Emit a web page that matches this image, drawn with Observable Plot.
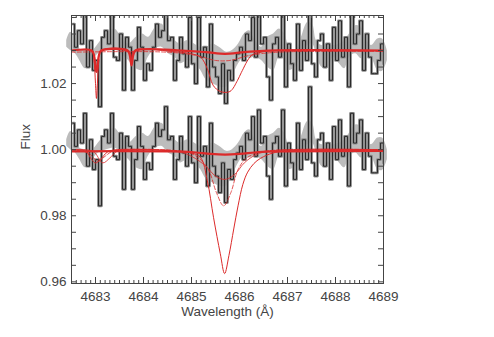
<!DOCTYPE html>
<html><head><meta charset="utf-8">
<script src="https://cdn.jsdelivr.net/npm/d3@7"></script>
<script src="https://cdn.jsdelivr.net/npm/@observablehq/plot@0.6"></script>
<style>body{margin:0;background:#fff}</style>
</head><body><div id="chart"></div>
<script>
// Spectrum offsets (continuum levels of the two stacked spectra)
const offsets = [1.03, 1.00];
// Wavelength grid of the observed spectrum (start, pixel width in Å)
const lambda0 = 4682.5, dLambda = 0.0625;
// Observed flux residuals (×1e-3) relative to continuum, one per pixel
const residual = [8,1,6,2,11,-5,3,-6,-3,-17,4,6,2,11,-2,-3,5,-12,4,1,-12,-3,7,1,-9,-4,-6,1,8,4,6,13,3,4,-9,-3,4,-1,-5,10,-4,-10,10,-2,1,-11,8,-5,-8,-13,-4,-16,-6,-9,-3,-1,1,-3,5,3,10,-2,12,2,4,-8,-15,2,4,-2,12,-11,2,-4,-9,8,-6,3,-3,19,-4,-8,3,5,-5,2,-9,7,-3,9,-2,4,-11,11,2,5,9,-6,5,-2,-7,-7,-3,2,-4];
// Smoothed band: [wavelength, lower, upper] (×1e-3 relative to continuum)
const band = [[4682.40,1,3],[4682.48,0,5.5],[4682.58,-1,4],[4682.67,-3,0.5],[4682.79,-5.5,0],[4682.94,-3,0],[4683.06,-1,2],[4683.23,0,5],[4683.40,0.5,6.5],[4683.54,-1,4],[4683.69,-3,2],[4683.85,-5.5,4],[4683.98,-6,5],[4684.10,-2,4],[4684.25,0.5,7],[4684.38,1,8],[4684.52,-1,5],[4684.65,-2,3],[4684.77,-4,2],[4684.92,-3,3],[4685.06,-4,2],[4685.19,-6,1],[4685.31,-9,1],[4685.44,-10,2],[4685.58,-11,1],[4685.73,-11,-0.5],[4685.85,-8,0],[4685.98,-4,2],[4686.10,-2,5],[4686.21,-2.5,6],[4686.33,-2,3],[4686.46,-3,1],[4686.58,-5,4],[4686.71,-6,5],[4686.83,-2,6.5],[4686.94,-3,5],[4687.04,-6,1],[4687.17,-5,0],[4687.29,-1,4],[4687.42,1.5,8.5],[4687.52,2,8],[4687.60,-1,3],[4687.71,-5,1.5],[4687.83,-5.5,2],[4687.96,-2,1.5],[4688.08,-4,2],[4688.19,-5.5,3],[4688.29,-2,5],[4688.42,-1,7.5],[4688.54,-2.5,7],[4688.65,-1,3],[4688.75,-2,1.5],[4688.88,-6,3.5],[4688.98,-6.3,3.5],[4689.08,-3,0]];
// Model profiles: [wavelength, depth ×1e-3]
const topThick = [[4682.5,0],[4682.92,0],[4682.97,-1.5],[4683.0,-5],[4683.02,-6.5],[4683.04,-5],[4683.07,-1.5],[4683.12,0],[4683.66,0],[4683.71,-1.2],[4683.75,-4.5],[4683.79,-1.2],[4683.84,0],[4684.8,0],[4685.3,-0.5],[4685.7,-1],[4686.1,-0.5],[4686.6,0],[4689,0]];
const topThin = [[4682.5,0],[4682.93,0],[4682.97,-3],[4683.0,-10],[4683.02,-14.5],[4683.04,-10],[4683.07,-3],[4683.11,0],[4683.7,0],[4683.75,-3],[4683.8,0],[4684.6,-0.3],[4685.0,-1],[4685.19,-2],[4685.33,-5.5],[4685.45,-10.5],[4685.6,-12.4],[4685.8,-12.4],[4685.96,-9],[4686.04,-6.6],[4686.25,-1.5],[4686.45,-0.5],[4686.8,0],[4689,0]];
const topDashed = [[4682.5,-0.5],[4684.5,-0.5],[4685.1,-1.5],[4685.5,-3],[4685.8,-3],[4686.2,-1.5],[4686.8,-0.5],[4689,-0.3]];
const botThick = [[4682.5,-0.5],[4684.5,-0.5],[4685.0,-0.7],[4685.4,-1.3],[4685.7,-1.5],[4686.0,-1.3],[4686.4,-0.7],[4686.9,-0.5],[4689,-0.4]];
const botDeep = [[4682.5,0],[4682.8,-0.5],[4682.92,-3],[4683.0,-4],[4683.1,-3],[4683.25,-0.7],[4683.45,0],[4684.5,-0.3],[4685.0,-1],[4685.19,-2.4],[4685.33,-9.4],[4685.46,-20.6],[4685.6,-31.5],[4685.69,-37.5],[4685.78,-32],[4685.88,-24],[4685.97,-17],[4686.07,-10.5],[4686.17,-6.8],[4686.3,-4.2],[4686.44,-2.6],[4686.7,-1],[4687.1,-0.3],[4689,0]];
const botDashed = [[4682.5,0],[4682.85,-1],[4683.05,-3.5],[4683.2,-2],[4683.35,-0.5],[4683.6,0],[4684.8,-0.5],[4685.1,-2],[4685.35,-6],[4685.52,-13],[4685.67,-17],[4685.82,-13],[4685.97,-6],[4686.15,-2.5],[4686.45,-0.7],[4687,0],[4689,0]];
const botThin = [[4682.5,0],[4682.95,-0.5],[4683.15,-4],[4683.3,-2.5],[4683.45,-0.5],[4683.7,0],[4684.7,-0.5],[4685.0,-2],[4685.3,-5],[4685.5,-8],[4685.7,-9],[4685.9,-7.5],[4686.1,-4],[4686.35,-1.5],[4686.7,-0.3],[4689,0]];
// Axis ticks
const xMajor = [4683,4684,4685,4686,4687,4688,4689];
const yLabels = [0.96,0.98,1.00,1.02];

const W = 494, H = 337, mL = 71, mR = 111, mT = 15, mB = 54;
const frameW = W - mL - mR, frameH = H - mT - mB;
const xMinor = d3.range(46826, 46890).map(d => d / 10).filter(d => Math.abs(d - Math.round(d)) > 1e-6);
const yTicks = d3.range(960, 1041, 5).map(d => d / 1000);

const stepData = offsets.flatMap(o => residual.map((r, i) => ({x: lambda0 + dLambda * (i + 0.5), y: o + r / 1000, s: o})));
const bandData = offsets.flatMap(o => band.map(([x, lo, hi]) => ({x, y1: o + lo / 1000, y2: o + hi / 1000, s: o})));
const model = (arr, o) => arr.map(([x, v]) => ({x, y: o + v / 1000}));

const red = "#dc2a2a";
const ink = "#444";
const chart = Plot.plot({
  width: W, height: H, marginLeft: mL, marginRight: mR, marginTop: mT, marginBottom: mB,
  x: {domain: [4682.5, 4689]},
  y: {domain: [0.9595, 1.0406]},
  style: {fontFamily: "'Liberation Sans', Arial, sans-serif", fontSize: "13.5px", color: ink, background: "#fff", overflow: "visible"},
  marks: [
    Plot.areaY(bandData, {x: "x", y1: "y1", y2: "y2", z: "s", fill: "#bcbcbc", curve: "catmull-rom"}),
    Plot.line(stepData, {x: "x", y: "y", z: "s", curve: "step", stroke: "#8c8c8c", strokeWidth: 2.8, clip: true}),
    Plot.line(stepData, {x: "x", y: "y", z: "s", curve: "step", stroke: "#2a2a2a", strokeWidth: 1, clip: true}),
    Plot.line(model(topDashed, 1.03), {x: "x", y: "y", stroke: red, strokeWidth: 0.8, strokeDasharray: "4,2", curve: "catmull-rom", clip: true}),
    Plot.line(model(botDashed, 1.00), {x: "x", y: "y", stroke: red, strokeWidth: 0.8, strokeDasharray: "4,2", curve: "catmull-rom", clip: true}),
    Plot.line(model(botThin, 1.00), {x: "x", y: "y", stroke: red, strokeWidth: 0.8, curve: "catmull-rom", clip: true}),
    Plot.line(model(topThin, 1.03), {x: "x", y: "y", stroke: red, strokeWidth: 1, curve: "catmull-rom", clip: true}),
    Plot.line(model(botDeep, 1.00), {x: "x", y: "y", stroke: red, strokeWidth: 1, curve: "catmull-rom", clip: true}),
    Plot.line(model(topThick, 1.03), {x: "x", y: "y", stroke: red, strokeWidth: 2.2, curve: "catmull-rom", clip: true}),
    Plot.line(model(botThick, 1.00), {x: "x", y: "y", stroke: red, strokeWidth: 2.2, curve: "catmull-rom", clip: true}),
    Plot.frame({stroke: ink, strokeWidth: 1}),
    Plot.tickX(xMinor, {x: d => d, insetTop: frameH - 3, stroke: ink}),
    Plot.tickX(xMajor, {x: d => d, insetTop: frameH - 6, stroke: ink}),
    Plot.tickX(xMinor, {x: d => d, insetBottom: frameH - 3, stroke: ink}),
    Plot.tickX(xMajor, {x: d => d, insetBottom: frameH - 6, stroke: ink}),
    Plot.tickY(yTicks, {y: d => d, insetRight: frameW - 5, stroke: ink}),
    Plot.tickY(yTicks, {y: d => d, insetLeft: frameW - 5, stroke: ink}),
    Plot.axisX(xMajor, {anchor: "bottom", tickSize: 0, tickPadding: 8, tickFormat: d3.format("d"), label: null, fill: ink}),
    Plot.axisY(yLabels, {anchor: "left", tickSize: 0, tickPadding: 5, tickFormat: d3.format(".2f"), label: null, fill: ink}),
    Plot.text(["Wavelength (Å)"], {frameAnchor: "bottom", dy: 32, text: d => d, fill: ink}),
    Plot.text(["Flux"], {frameAnchor: "left", dx: -46, rotate: -90, text: d => d, fill: ink})
  ]
});
document.getElementById("chart").appendChild(chart);
</script></body></html>
